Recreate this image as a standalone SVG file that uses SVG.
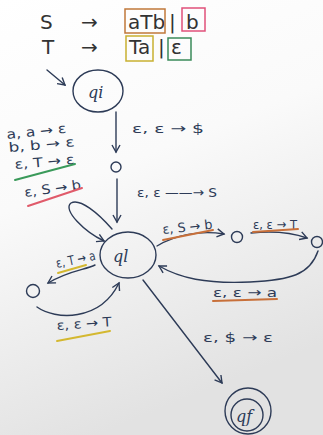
<svg xmlns="http://www.w3.org/2000/svg" width="323" height="435" viewBox="0 0 323 435">
<defs>
<linearGradient id="bg" x1="0" y1="0" x2="0.3" y2="1">
<stop offset="0" stop-color="#ffffff"/>
<stop offset="0.45" stop-color="#fafafa"/>
<stop offset="1" stop-color="#e2e2e2"/>
</linearGradient>
<marker id="ah" markerWidth="10" markerHeight="10" refX="8" refY="5" orient="auto" markerUnits="userSpaceOnUse">
<path d="M1,1 L8,5 L1,9" fill="none" stroke="#2d3b57" stroke-width="1.4"/>
</marker>
</defs>
<style>
.ink{fill:none;stroke:#2d3b57;stroke-width:1.4;stroke-linecap:round}
.lbl{font-family:"DejaVu Sans",sans-serif;font-size:13px;fill:#2d3b57}
.gram{font-family:"DejaVu Sans",sans-serif;font-size:20px;fill:#333}
.st{font-family:"DejaVu Serif",serif;font-style:italic;font-size:16px;fill:#2d3b57}
.ul{fill:none;stroke-width:2;stroke-linecap:round}
</style>
<rect width="323" height="435" fill="url(#bg)"/>
<g id="grammar">
<text class="gram" x="40" y="29">S</text>
<text class="gram" x="81" y="29">→</text>
<text class="gram" x="128" y="29">aTb</text>
<text class="gram" x="169" y="29">|</text>
<text class="gram" x="186" y="29">b</text>
<text class="gram" x="42" y="54">T</text>
<text class="gram" x="81" y="54">→</text>
<text class="gram" x="129" y="54">Ta</text>
<text class="gram" x="158" y="54">|</text>
<text class="gram" x="171" y="54">ε</text>
<rect x="125" y="9" width="40" height="24" fill="none" stroke="#c0783a" stroke-width="1.5"/>
<rect x="182" y="8" width="23" height="23" fill="none" stroke="#e0507a" stroke-width="1.5"/>
<rect x="126" y="36" width="27" height="25" fill="none" stroke="#c8b030" stroke-width="1.5"/>
<rect x="168" y="38" width="23" height="22" fill="none" stroke="#3a8a5a" stroke-width="1.5"/>
</g>
<g id="qi">
<ellipse class="ink" cx="98" cy="91" rx="25" ry="21"/>
<text class="st" x="88" y="98">qi</text>
</g>
<g id="m1">
<circle class="ink" cx="116" cy="167" r="5"/>
</g>
<g id="ql">
<ellipse class="ink" cx="128" cy="255" rx="28" ry="23"/>
<text class="st" x="113" y="262">ql</text>
</g>
<g id="m2">
<circle class="ink" cx="33" cy="291" r="6.5"/>
</g>
<g id="m3">
<circle class="ink" cx="237" cy="237" r="5.5"/>
</g>
<g id="m4">
<circle class="ink" cx="317" cy="242" r="5.5"/>
</g>
<g id="qf">
<circle class="ink" cx="248" cy="411" r="23"/>
<circle class="ink" cx="247" cy="415" r="16"/>
<text class="st" x="236" y="422">qf</text>
</g>
<g id="connectors">
<path class="ink" d="M47,70 L65,85" marker-end="url(#ah)"/>
<path class="ink" d="M116,112 L116,152" marker-end="url(#ah)"/>
<path class="ink" d="M117,179 L117,222" marker-end="url(#ah)"/>
<path class="ink" d="M112,229 C98,213 80,198 71,203 C62,210 85,232 104,241" marker-end="url(#ah)"/>
<path class="ink" d="M95,265 C85,270 70,270 48,283" marker-end="url(#ah)"/>
<path class="ink" d="M37,307 C55,320 100,322 119,283" marker-end="url(#ah)"/>
<path class="ink" d="M157,246 C175,235 200,230 224,234" marker-end="url(#ah)"/>
<path class="ink" d="M251,233 C270,231 290,232 307,238" marker-end="url(#ah)"/>
<path class="ink" d="M318,251 C310,275 290,280 250,282 C205,284 180,278 159,266" marker-end="url(#ah)"/>
<path class="ink" d="M143,280 L222,383" marker-end="url(#ah)"/>
</g>
<g id="labels">
<text class="lbl" x="7" y="139" textLength="60" lengthAdjust="spacingAndGlyphs" transform="rotate(-6 7 139)">a, a → ε</text>
<text class="lbl" x="9" y="152" textLength="66" lengthAdjust="spacingAndGlyphs" transform="rotate(-5 9 152)">b, b → ε</text>
<text class="lbl" x="15" y="169" textLength="60" lengthAdjust="spacingAndGlyphs" transform="rotate(-5 15 169)">ε, T → ε</text>
<path class="ul" stroke="#3a9a5a" d="M15,180 L75,164"/>
<text class="lbl" x="25" y="197" textLength="57" lengthAdjust="spacingAndGlyphs" transform="rotate(-8 25 197)">ε, S → b</text>
<path class="ul" stroke="#e05a6a" d="M28,206 L82,188"/>
<text class="lbl" x="132" y="133" textLength="72" lengthAdjust="spacingAndGlyphs">ε, ε → $</text>
<text class="lbl" x="137" y="197" textLength="80" lengthAdjust="spacingAndGlyphs">ε, ε ——→ S</text>
<text class="lbl" x="57" y="268" textLength="40" lengthAdjust="spacingAndGlyphs" transform="rotate(-12 57 268)">ε, T → a</text>
<path class="ul" stroke="#d4b830" d="M58,273 L86,265"/>
<text class="lbl" x="57" y="330" textLength="55" lengthAdjust="spacingAndGlyphs" transform="rotate(-4 57 330)">ε, ε → T</text>
<path class="ul" stroke="#d4b830" d="M57,341 L110,331"/>
<text class="lbl" x="163" y="234" textLength="50" lengthAdjust="spacingAndGlyphs" transform="rotate(-6 163 234)">ε, S → b</text>
<path class="ul" stroke="#c8703a" d="M163,240 L213,230"/>
<text class="lbl" x="253" y="229" textLength="44" lengthAdjust="spacingAndGlyphs">ε, ε → T</text>
<path class="ul" stroke="#c8703a" d="M253,232 L298,229"/>
<text class="lbl" x="213" y="297" textLength="64" lengthAdjust="spacingAndGlyphs">ε, ε → a</text>
<path class="ul" stroke="#c8703a" d="M213,301 L277,299"/>
<text class="lbl" x="203" y="342" textLength="70" lengthAdjust="spacingAndGlyphs">ε, $ → ε</text>
</g>
</svg>
